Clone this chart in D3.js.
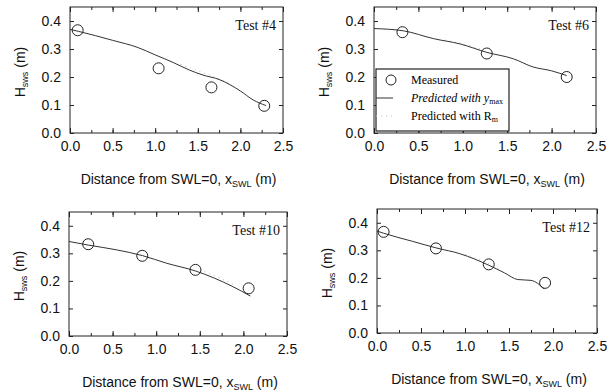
<!DOCTYPE html>
<html>
<head>
<meta charset="utf-8">
<script src="https://cdn.jsdelivr.net/npm/d3@7"></script>
<style>
  body { margin: 0; background: #fff; }
  svg { display: block; }
</style>
</head>
<body>
<svg id="chart" width="607" height="392"></svg>
<script>
// Test #4
var test4Measured = [[0.09, 0.367], [1.04, 0.231], [1.66, 0.163], [2.28, 0.097]];
var test4Ymax = [[0.0, 0.370], [0.1, 0.363], [0.5, 0.331], [0.8, 0.305], [1.0, 0.279], [1.21, 0.252], [1.4, 0.225], [1.55, 0.208], [1.76, 0.190], [2.0, 0.150], [2.15, 0.118], [2.3, 0.098]];
var test4Rm = [[1.3, 0.245], [1.5, 0.222], [1.7, 0.200], [1.9, 0.172]];
// Test #6
var test6Measured = [[0.32, 0.360], [1.27, 0.284], [2.17, 0.200]];
var test6Ymax = [[0.0, 0.373], [0.33, 0.365], [0.67, 0.337], [0.97, 0.318], [1.27, 0.288], [1.57, 0.265], [1.79, 0.236], [2.0, 0.222], [2.17, 0.205]];
var test6Rm = [[0.8, 0.332], [1.0, 0.318], [1.2, 0.300]];
// Test #10
var test10Measured = [[0.22, 0.333], [0.84, 0.291], [1.45, 0.240], [2.06, 0.173]];
var test10Ymax = [[0.0, 0.343], [0.22, 0.330], [0.54, 0.313], [0.84, 0.292], [1.12, 0.264], [1.45, 0.236], [1.88, 0.179], [2.08, 0.145]];
var test10Rm = [[1.5, 0.240], [1.7, 0.214], [1.9, 0.185]];
// Test #12
var test12Measured = [[0.075, 0.367], [0.67, 0.307], [1.27, 0.249], [1.91, 0.182]];
var test12Ymax = [[0.0, 0.370], [0.075, 0.362], [0.4, 0.333], [0.67, 0.309], [0.95, 0.287], [1.27, 0.246], [1.45, 0.218], [1.6, 0.194], [1.75, 0.191], [1.9, 0.160]];
var test12Rm = [[1.0, 0.285], [1.2, 0.262], [1.4, 0.230]];

var xTicks = [0, 0.5, 1.0, 1.5, 2.0, 2.5];
var yTicks = [0, 0.1, 0.2, 0.3, 0.4];

var panels = [
  {name: "Test #4", measured: test4Measured, ymax: test4Ymax, rm: test4Rm, left: 70, right: 283, top: 7, bottom: 133, legend: false},
  {name: "Test #6", measured: test6Measured, ymax: test6Ymax, rm: test6Rm, left: 374, right: 596, top: 7, bottom: 133, legend: true},
  {name: "Test #10", measured: test10Measured, ymax: test10Ymax, rm: test10Rm, left: 69, right: 287, top: 212, bottom: 336, legend: false},
  {name: "Test #12", measured: test12Measured, ymax: test12Ymax, rm: test12Rm, left: 377, right: 597, top: 209, bottom: 333, legend: false}
];

var svg = d3.select("#chart");
var sans = "Liberation Sans, Arial, sans-serif";
var serif = "Liberation Serif, Times New Roman, serif";

panels.forEach(function (p) {
  var w = p.right - p.left, h = p.bottom - p.top;
  var x = d3.scaleLinear().domain([0, 2.5]).range([0, w]);
  var y = d3.scaleLinear().domain([0, 0.45]).range([h, 0]);
  var g = svg.append("g").attr("transform", "translate(" + p.left + "," + p.top + ")");

  // frame
  g.append("rect").attr("width", w).attr("height", h)
    .attr("fill", "none").attr("stroke", "#222").attr("stroke-width", 1);

  // inward ticks on all four sides
  var xMinor = d3.range(0, 2.51, 0.25);
  g.append("g").attr("transform", "translate(0," + h + ")")
    .call(d3.axisBottom(x).tickValues(xTicks).tickSize(-5).tickFormat(d3.format(".1f")).tickPadding(8))
    .call(function (a) {
      a.select(".domain").remove();
      a.selectAll("line").attr("stroke", "#222");
      a.selectAll("text").attr("font-family", sans).attr("font-size", "14px").attr("fill", "#111");
    });
  g.append("g").attr("transform", "translate(0," + h + ")")
    .call(d3.axisBottom(x).tickValues(xMinor).tickSize(-3).tickFormat(""))
    .call(function (a) { a.select(".domain").remove(); a.selectAll("line").attr("stroke", "#222"); });
  g.append("g")
    .call(d3.axisTop(x).tickValues(xMinor).tickSize(-3).tickFormat(""))
    .call(function (a) { a.select(".domain").remove(); a.selectAll("line").attr("stroke", "#222"); });
  g.append("g")
    .call(d3.axisTop(x).tickValues(xTicks).tickSize(-5).tickFormat(""))
    .call(function (a) { a.select(".domain").remove(); a.selectAll("line").attr("stroke", "#222"); });
  g.append("g")
    .call(d3.axisLeft(y).tickValues(yTicks).tickSize(-4).tickFormat(d3.format(".1f")).tickPadding(9))
    .call(function (a) {
      a.select(".domain").remove();
      a.selectAll("line").attr("stroke", "#222");
      a.selectAll("text").attr("font-family", sans).attr("font-size", "14px").attr("fill", "#111");
    });
  g.append("g").attr("transform", "translate(" + w + ",0)")
    .call(d3.axisRight(y).tickValues(yTicks).tickSize(-4).tickFormat(""))
    .call(function (a) { a.select(".domain").remove(); a.selectAll("line").attr("stroke", "#222"); });

  // predicted with R_m (faint dotted)
  var line = d3.line().x(function (d) { return x(d[0]); }).y(function (d) { return y(d[1]); }).curve(d3.curveMonotoneX);
  g.append("path").datum(p.rm).attr("d", line)
    .attr("fill", "none").attr("stroke", "#bbb").attr("stroke-width", 1).attr("stroke-dasharray", "1,4");
  // predicted with y_max
  g.append("path").datum(p.ymax).attr("d", line)
    .attr("fill", "none").attr("stroke", "#333").attr("stroke-width", 1);
  // measured
  g.selectAll("circle.m").data(p.measured).enter().append("circle")
    .attr("class", "m")
    .attr("cx", function (d) { return x(d[0]); })
    .attr("cy", function (d) { return y(d[1]); })
    .attr("r", 5.5)
    .attr("fill", "none").attr("stroke", "#222").attr("stroke-width", 1);

  // test name
  g.append("text").attr("x", w - 7).attr("y", 23).attr("text-anchor", "end")
    .attr("font-family", serif).attr("font-size", "14px").attr("fill", "#111")
    .text(p.name);

  // x axis label
  var xl = g.append("text").attr("x", w / 2 + 2).attr("y", h + 51).attr("text-anchor", "middle")
    .attr("font-family", sans).attr("font-size", "14px").attr("fill", "#111");
  xl.append("tspan").text("Distance from SWL=0, x");
  xl.append("tspan").attr("font-size", "9px").attr("dy", 3).text("SWL");
  xl.append("tspan").attr("dy", -3).text(" (m)");

  // y axis label
  var yl = g.append("text").attr("transform", "translate(-45," + (h / 2 + 2) + ") rotate(-90)")
    .attr("text-anchor", "middle")
    .attr("font-family", sans).attr("font-size", "14px").attr("fill", "#111");
  yl.append("tspan").text("H");
  yl.append("tspan").attr("font-size", "9px").attr("dy", 3).text("sws");
  yl.append("tspan").attr("dy", -3).text(" (m)");

  if (p.legend) {
    var lg = g.append("g").attr("transform", "translate(2,62)");
    lg.append("rect").attr("width", 133).attr("height", 62)
      .attr("fill", "#fff").attr("stroke", "#222").attr("stroke-width", 1.2);
    lg.append("circle").attr("cx", 15).attr("cy", 11).attr("r", 5)
      .attr("fill", "none").attr("stroke", "#222");
    lg.append("text").attr("x", 35).attr("y", 15).attr("font-family", serif).attr("font-size", "12px").text("Measured");
    lg.append("line").attr("x1", 0).attr("x2", 17).attr("y1", 29).attr("y2", 29).attr("stroke", "#333");
    var t2 = lg.append("text").attr("x", 35).attr("y", 33).attr("font-family", serif).attr("font-size", "12px").attr("font-style", "italic");
    t2.append("tspan").text("Predicted with y");
    t2.append("tspan").attr("font-size", "8px").attr("font-style", "normal").attr("dy", 2).text("max");
    lg.append("line").attr("x1", 0).attr("x2", 17).attr("y1", 47).attr("y2", 47)
      .attr("stroke", "#bbb").attr("stroke-dasharray", "1,4");
    var t3 = lg.append("text").attr("x", 35).attr("y", 51).attr("font-family", serif).attr("font-size", "12px");
    t3.append("tspan").text("Predicted with R");
    t3.append("tspan").attr("font-size", "8px").attr("dy", 2).text("m");
  }
});
</script>
</body>
</html>
